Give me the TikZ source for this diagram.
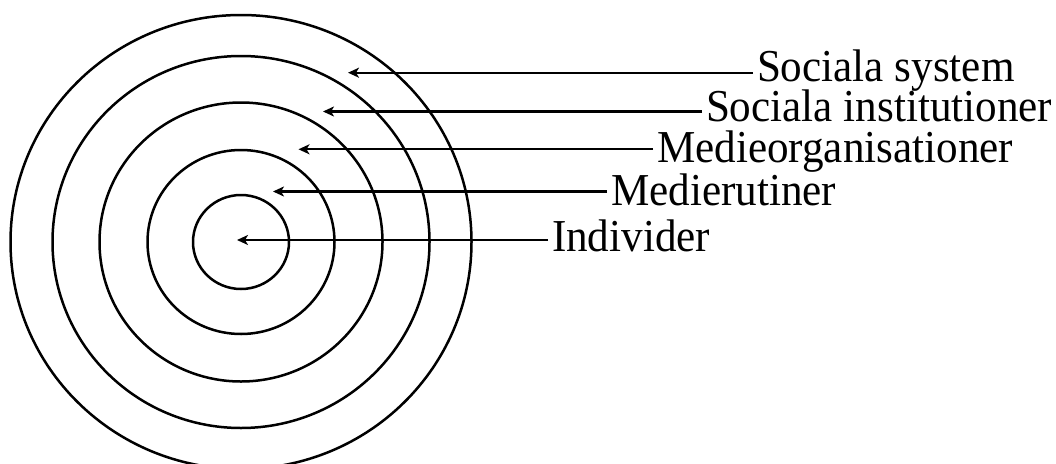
\documentclass[tikz,border=0pt]{standalone}
\usepackage{fontspec}
\setmainfont{Liberation Serif}
\usetikzlibrary{arrows.meta}
\newcommand{\tallTxt}[1]{\scalebox{1.01}[1.07]{#1}}
\begin{document}
\begin{tikzpicture}[x=1pt,y=-1pt,
  ring/.style={draw=black,line width=2.5pt},
  arr/.style={draw=black,line width=2.3pt,-{Stealth[length=11pt,width=10pt,inset=3pt]}},
  lbl/.style={anchor=base west,inner sep=0pt,outer xsep=4pt,font=\fontsize{42.7}{46}\selectfont}]
\useasboundingbox (0,0) rectangle (1056,463);
\clip (0,0) rectangle (1056,463);
\coordinate (c) at (241,242);
\draw[ring] (c) ellipse [x radius=48, y radius=47];
\draw[ring] (c) ellipse [x radius=93.5, y radius=92];
\draw[ring] (c) ellipse [x radius=141.5, y radius=139.5];
\draw[ring] (c) ellipse [x radius=188.5, y radius=186];
\draw[ring] (c) ellipse [x radius=230.5, y radius=227];
\coordinate (t1) at (348,72.7);
\coordinate (t2) at (323,111.5);
\coordinate (t3) at (298.5,149.3);
\coordinate (t4) at (273,191.5);
\coordinate (t5) at (237,240);
\node[lbl] (l1) at (753,81.7) {\tallTxt{Sociala system}};
\node[lbl] (l2) at (702,121.7) {\tallTxt{Sociala institutioner}};
\node[lbl] (l3) at (653,162.7) {\tallTxt{Medieorganisationer}};
\node[lbl] (l4) at (607,205) {\tallTxt{Medierutiner}};
\node[lbl] (l5) at (548,251.7) {\tallTxt{Individer}};
\draw[arr] (l1.base west |- t1) -- (t1);
\draw[arr] (l2.base west |- t2) -- (t2);
\draw[arr] (l3.base west |- t3) -- (t3);
\draw[arr] (l4.base west |- t4) -- (t4);
\draw[arr] (l5.base west |- t5) -- (t5);
\end{tikzpicture}
\end{document}
